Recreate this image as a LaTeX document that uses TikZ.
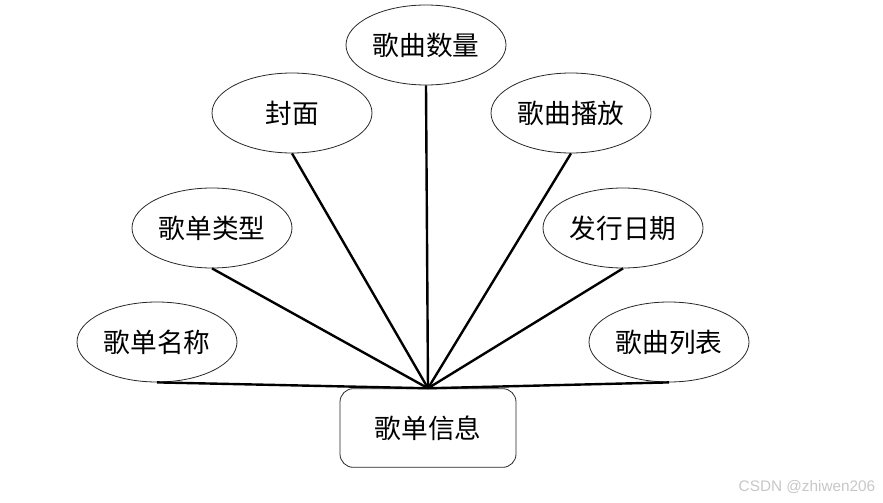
\documentclass[tikz,border=0pt]{standalone}
\usepackage{fontspec}
\newfontfamily\cjk{Noto Sans CJK SC}
\newfontfamily\wmfont{Liberation Sans}
\usetikzlibrary{shapes.geometric}
\tikzset{
  attr/.style={ellipse, draw=black!85, line width=0.6pt, fill=white,
    minimum width=120pt, minimum height=60pt, inner sep=0pt,
    font=\cjk\fontsize{20}{20}\selectfont},
  entity/.style={rectangle, rounded corners=10pt, draw=black!85, line width=0.6pt,
    fill=white, minimum width=132pt, minimum height=59pt, inner sep=0pt,
    font=\cjk\fontsize{20}{20}\selectfont},
  link/.style={line width=1.8pt}
}
\begin{document}
\begin{tikzpicture}[x=0.75pt,y=-0.75pt]
		% Marco: tamaño de la imagen
		\useasboundingbox (0,0) rectangle (883,503);
		% Entidad central
		\node[entity] (info) at (428,428) {歌单信息};
		% Atributos
		\node[attr] (shuliang) at (426,45) {歌曲数量};
		\node[attr] (fengmian) at (292,113) {封面};
		\node[attr] (bofang) at (571,113) {歌曲播放};
		\node[attr] (leixing) at (212,228) {歌单类型};
		\node[attr] (riqi) at (623,228) {发行日期};
		\node[attr] (mingcheng) at (157,342) {歌单名称};
		\node[attr] (liebiao) at (669,342) {歌曲列表};
		% Conexiones con la entidad
		\foreach \a in {shuliang,fengmian,bofang,leixing,riqi,mingcheng,liebiao}
			\draw[link] (\a.south) -- (info.north);
		% Marca de agua
		\node[anchor=east, text=black!22, font=\wmfont\fontsize{11.5}{11.5}\selectfont] (marca) at (880,487) {CSDN @zhiwen206};
	\end{tikzpicture}
\end{document}
